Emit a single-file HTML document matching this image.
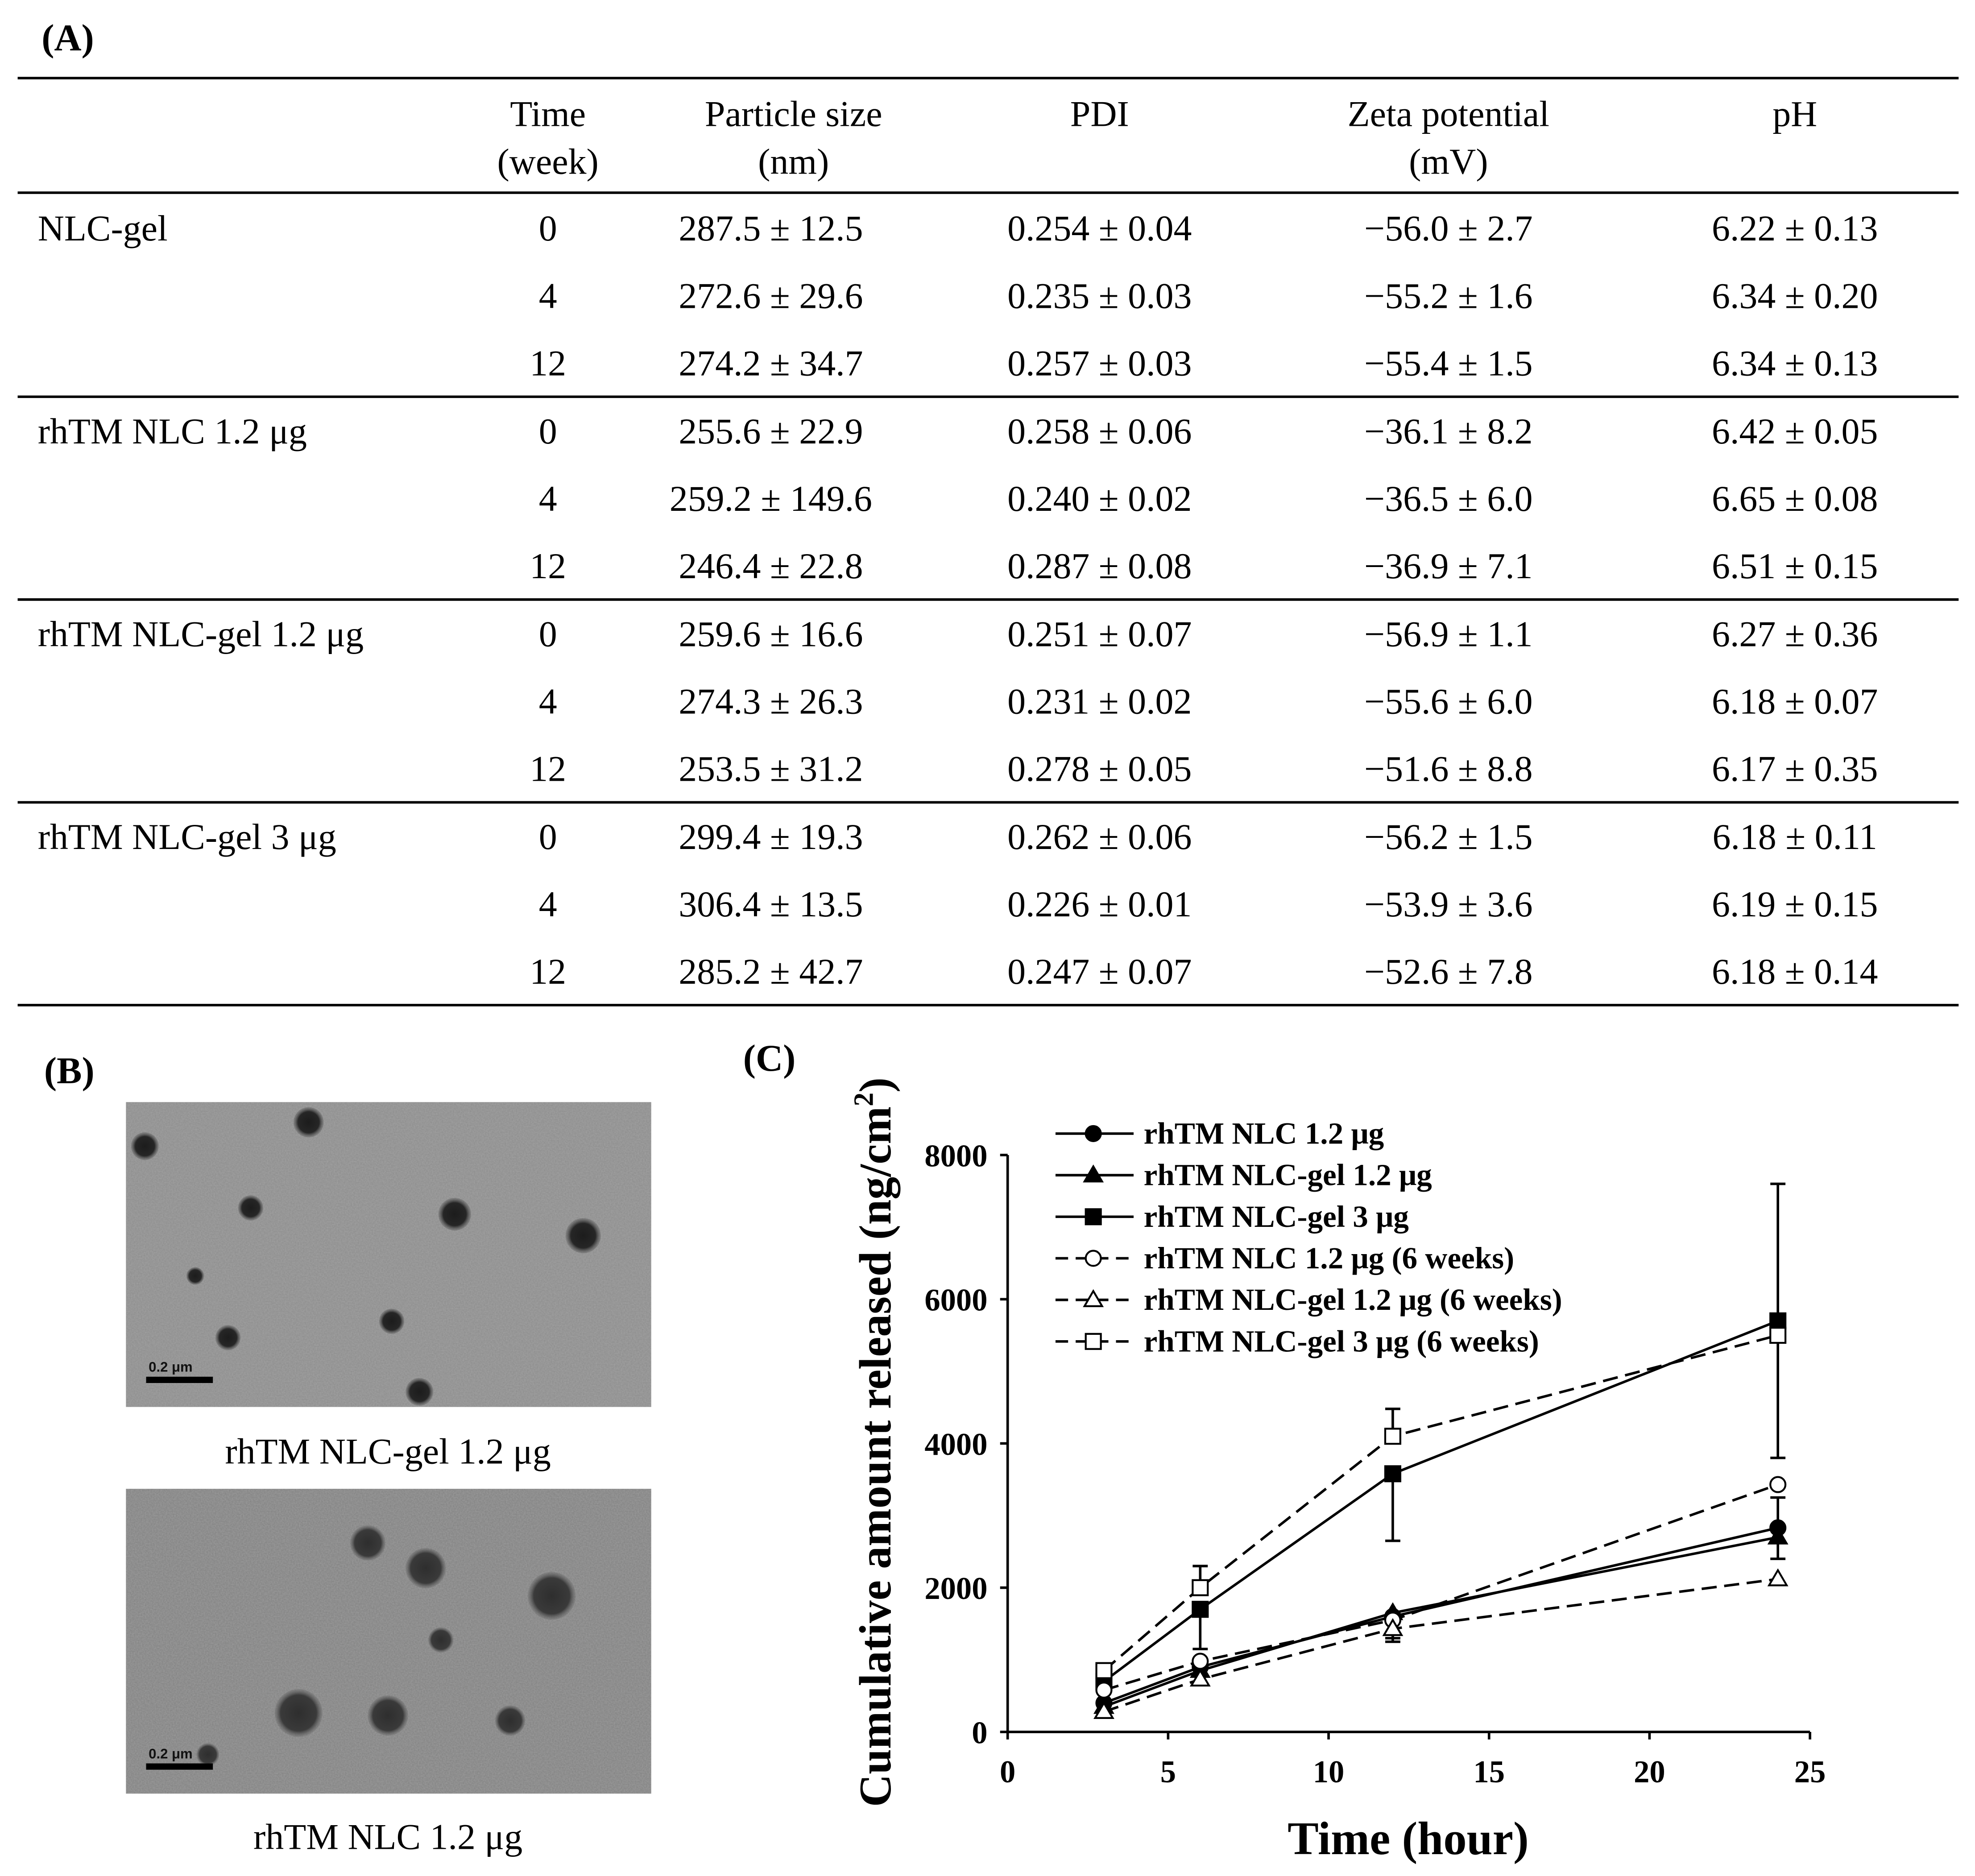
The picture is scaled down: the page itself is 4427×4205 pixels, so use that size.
<!DOCTYPE html>
<html><head><meta charset="utf-8"><style>
html,body{margin:0;padding:0;background:#fff;}
svg{display:block;}
.t{font-family:"Liberation Serif",serif;font-size:29px;fill:#000;}
.b{font-family:"Liberation Serif",serif;font-weight:bold;fill:#000;}
</style></head><body>
<svg id="root" width="4427" height="4205" viewBox="0 0 1568 1489.4" xmlns="http://www.w3.org/2000/svg">
<defs>
<filter id="noise" x="0" y="0" width="100%" height="100%"><feTurbulence type="fractalNoise" baseFrequency="0.9" numOctaves="2" seed="3"/><feColorMatrix type="matrix" values="0 0 0 0 0.5  0 0 0 0 0.5  0 0 0 0 0.5  0 0 0 0.45 0"/></filter>
<radialGradient id="pg"><stop offset="0" stop-color="#1c1c1c"/><stop offset="0.7" stop-color="#262626"/><stop offset="1" stop-color="#555" stop-opacity="0.3"/></radialGradient>
<radialGradient id="pg2"><stop offset="0" stop-color="#2e2e2e"/><stop offset="0.75" stop-color="#3a3a3a"/><stop offset="1" stop-color="#666" stop-opacity="0.3"/></radialGradient>
</defs>
<text class="b" x="33" y="40" font-size="30">(A)</text>
<g id="table"></g>
<text class="b" x="35" y="860" font-size="30">(B)</text>
<g id="micro"></g>
<text class="t" x="308" y="1162" text-anchor="middle" font-size="29">rhTM NLC-gel 1.2 μg</text>
<text class="t" x="308" y="1468" text-anchor="middle" font-size="29">rhTM NLC 1.2 μg</text>
<text class="b" x="590" y="850" font-size="30">(C)</text>
<g id="chart"></g>
</svg>
<script>
const NS="http://www.w3.org/2000/svg";
function mk(tag,attrs,parent,txt){const e=document.createElementNS(NS,tag);for(const k in attrs)e.setAttribute(k,attrs[k]);if(txt!==undefined)e.textContent=txt;parent.appendChild(e);return e;}

/* ---------- Table ---------- */
const headers=[["Time","(week)"],["Particle size","(nm)"],["PDI",""],["Zeta potential","(mV)"],["pH",""]];
const groups=["NLC-gel","rhTM NLC 1.2 μg","rhTM NLC-gel 1.2 μg","rhTM NLC-gel 3 μg"];
const weeks=["0","4","12"];
const sizes=["287.5 ± 12.5","272.6 ± 29.6","274.2 ± 34.7","255.6 ± 22.9","259.2 ± 149.6","246.4 ± 22.8","259.6 ± 16.6","274.3 ± 26.3","253.5 ± 31.2","299.4 ± 19.3","306.4 ± 13.5","285.2 ± 42.7"];
const pdis=["0.254 ± 0.04","0.235 ± 0.03","0.257 ± 0.03","0.258 ± 0.06","0.240 ± 0.02","0.287 ± 0.08","0.251 ± 0.07","0.231 ± 0.02","0.278 ± 0.05","0.262 ± 0.06","0.226 ± 0.01","0.247 ± 0.07"];
const zetas=["−56.0 ± 2.7","−55.2 ± 1.6","−55.4 ± 1.5","−36.1 ± 8.2","−36.5 ± 6.0","−36.9 ± 7.1","−56.9 ± 1.1","−55.6 ± 6.0","−51.6 ± 8.8","−56.2 ± 1.5","−53.9 ± 3.6","−52.6 ± 7.8"];
const phs=["6.22 ± 0.13","6.34 ± 0.20","6.34 ± 0.13","6.42 ± 0.05","6.65 ± 0.08","6.51 ± 0.15","6.27 ± 0.36","6.18 ± 0.07","6.17 ± 0.35","6.18 ± 0.11","6.19 ± 0.15","6.18 ± 0.14"];
const tbl=document.getElementById('table');
const colX=[435,630,873,1150,1425];
const colXd=[435,612,873,1150,1425];
[62,153,315,476,637,798].forEach((y,i)=>{const l=mk('line',{x1:14,x2:1555,y1:y,y2:y,stroke:'#000','stroke-width':2},tbl);

});
headers.forEach((h,i)=>{const t=mk('text',{class:'t',x:colX[i],y:100,'text-anchor':'middle'},tbl,h[0]);


if(h[1]){const t2=mk('text',{class:'t',x:colX[i],y:138,'text-anchor':'middle'},tbl,h[1]);

}});
const cols=[null,sizes,pdis,zetas,phs];
for(let r=0;r<12;r++){
 const g=Math.floor(r/3),w=r%3;const y=191+g*161+w*53.5;
 if(w===0){const gl=mk('text',{class:'t',x:30,y:y},tbl,groups[g]);
 
 }
 const wt=mk('text',{class:'t',x:colXd[0],y:y,'text-anchor':'middle'},tbl,weeks[w]);
 
 
 for(let c=1;c<5;c++){const ct=mk('text',{class:'t',x:colXd[c],y:y,'text-anchor':'middle'},tbl,cols[c][r]);
 
 }
}

/* ---------- TEM images ---------- */
const micro=document.getElementById('micro');
const topParticles=[[115,910,11],[245,891,12],[199,959,10],[361,964,13],[463,981,14],[155,1013,7],[181,1062,10],[311,1049,10],[333,1105,11]];
const botParticles=[[292,1225,14],[338,1245,16],[438,1267,19],[350,1302,10],[237,1360,19],[308,1362,16],[405,1366,12],[165,1393,9]];
[[875,topParticles,'#8c8c8c','url(#pg)'],[1182,botParticles,'#818181','url(#pg2)']].forEach(([y0,parts,bg,grad],k)=>{
 const r=mk('rect',{x:100,y:y0,width:417,height:242,fill:bg},micro);
 
 
 mk('rect',{x:100,y:y0,width:417,height:242,filter:'url(#noise)'},micro);
 parts.forEach(p=>{const c=mk('circle',{cx:p[0],cy:p[1],r:p[2],fill:grad},micro);
 
 });
 const sb=mk('rect',{x:116,y:y0+218,width:53,height:5,fill:'#000'},micro);
 
 
 const st=mk('text',{x:118,y:y0+214,'font-family':'Liberation Sans,sans-serif','font-size':11,'font-weight':'bold',fill:'#111'},micro,'0.2 μm');
 
 
});

/* ---------- Chart ---------- */
const times=[3,6,12,24];
const xTicks=[0,5,10,15,20,25];
const yTicks=[0,2000,4000,6000,8000];
const seriesNames=["rhTM NLC 1.2 μg","rhTM NLC-gel 1.2 μg","rhTM NLC-gel 3 μg","rhTM NLC 1.2 μg (6 weeks)","rhTM NLC-gel 1.2 μg (6 weeks)","rhTM NLC-gel 3 μg (6 weeks)"];
const nlc12=[400,900,1600,2830];
const gel12=[350,850,1650,2700];
const gel3=[700,1700,3580,5700];
const nlc12w6=[580,980,1550,3430];
const gel12w6=[280,730,1430,2120];
const gel3w6=[850,2000,4100,5500];
const nlc12Err=[0,0,0,420];
const gel12Err=[0,0,-350,-300];
const gel3Err=[0,-550,-930,-1900];
const nlc12w6Err=[0,0,0,0];
const gel12w6Err=[0,0,-180,0];
const gel3w6Err=[0,300,380,2100];
const series=[nlc12,gel12,gel3,nlc12w6,gel12w6,gel3w6];
const errs=[nlc12Err,gel12Err,gel3Err,nlc12w6Err,gel12w6Err,gel3w6Err];
const markers=['circle','tri','square','circle','tri','square'];
const filled=[true,true,true,false,false,false];

const ch=document.getElementById('chart');
const X0=800,X1=1437,Y0=1375,Y1=917;
const xs=v=>X0+(v-0)/(25-0)*(X1-X0);
const ys=v=>Y0-(v-0)/(8000-0)*(Y0-Y1);
const ax=mk('path',{d:`M${X0},${Y1}V${Y0}H${X1}`,fill:'none',stroke:'#000','stroke-width':2},ch);


xTicks.forEach(v=>{mk('line',{x1:xs(v),x2:xs(v),y1:Y0,y2:Y0+6,stroke:'#000','stroke-width':2},ch);
 const t=mk('text',{class:'b',x:xs(v),y:Y0+40,'text-anchor':'middle','font-size':25},ch,String(v));
 
 });
yTicks.forEach(v=>{mk('line',{x1:X0-6,x2:X0,y1:ys(v),y2:ys(v),stroke:'#000','stroke-width':2},ch);
 const t=mk('text',{class:'b',x:X0-16,y:ys(v)+9,'text-anchor':'end','font-size':25},ch,String(v));
 
 });
const xt=mk('text',{class:'b',x:1118,y:1472,'text-anchor':'middle','font-size':37},ch,'Time (hour)');


const yt=mk('text',{class:'b',x:0,y:0,'text-anchor':'middle','font-size':36,transform:'translate(707,1145) rotate(-90)'},ch);


yt.innerHTML='Cumulative amount released (ng/cm<tspan font-size="22" dy="-14">2</tspan><tspan dy="14">)</tspan>';

function marker(type,cx,cy,fill,parent){
 const f=fill?'#000':'#fff';let m;
 if(type==='circle')m=mk('circle',{cx:cx,cy:cy,r:6,fill:f,stroke:'#000','stroke-width':1.5},parent);
 else if(type==='square')m=mk('rect',{x:cx-6,y:cy-6,width:12,height:12,fill:f,stroke:'#000','stroke-width':1.5},parent);
 else m=mk('path',{d:`M${cx},${cy-7}L${cx+7},${cy+5}L${cx-7},${cy+5}Z`,fill:f,stroke:'#000','stroke-width':1.5},parent);
 return m;
}
series.forEach((s,i)=>{
 const g=mk('g',{},ch);
 
 
 errs[i].forEach((e,j)=>{if(!e)return;const x=xs(times[j]);
  const eb=mk('path',{d:`M${x},${ys(s[j])}V${ys(s[j]+e)}M${x-6},${ys(s[j]+e)}H${x+6}`,stroke:'#000','stroke-width':2,fill:'none'},g);
  
  });
 const pl=mk('polyline',{points:s.map((v,j)=>xs(times[j])+','+ys(v)).join(' '),fill:'none',stroke:'#000','stroke-width':2,'stroke-dasharray':filled[i]?'none':'12,6'},g);
 
 
 s.forEach((v,j)=>{const m=marker(markers[i],xs(times[j]),ys(v),filled[i],g);
  
  });
});
const lg=mk('g',{},ch);


seriesNames.forEach((n,i)=>{const y=900+i*33;
 const e=mk('g',{},lg);
 
 
 mk('line',{x1:838,x2:900,y1:y,y2:y,stroke:'#000','stroke-width':2,'stroke-dasharray':filled[i]?'none':'10,6'},e);
 marker(markers[i],868,y,filled[i],e);
 mk('text',{class:'b',x:908,y:y+8,'font-size':24.5},e,n);
});
</script>
</body></html>
